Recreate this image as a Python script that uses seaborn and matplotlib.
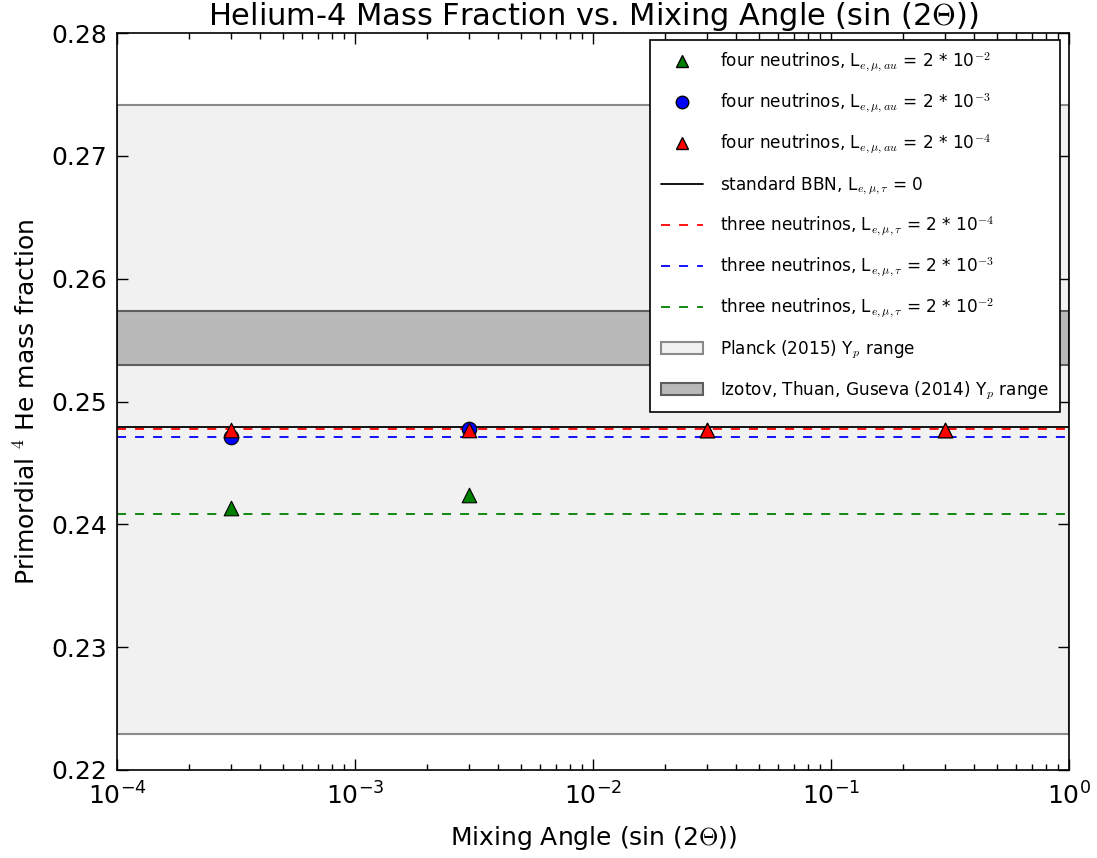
import numpy as np
import pandas as pd
import matplotlib
matplotlib.use("Agg")
import matplotlib.pyplot as plt
import seaborn as sns
from matplotlib.patches import Patch
from matplotlib.lines import Line2D

# Mixing angles (sin 2Theta) sampled by the four-neutrino runs
mixing_angle = [3e-4, 3e-3, 3e-2, 3e-1]

# Helium-4 mass fraction, four neutrinos, for three lepton asymmetries
yp_four_2e2 = [0.2413, 0.2424, 0.2477, 0.2477]
yp_four_2e3 = [0.2471, 0.2478, np.nan, np.nan]
yp_four_2e4 = [0.2477, 0.2477, 0.2477, 0.2477]

# Reference levels (no mixing)
yp_standard = 0.2479
yp_three_2e4 = 0.2478
yp_three_2e3 = 0.2471
yp_three_2e2 = 0.2408

# Observational ranges
planck_range = (0.2229, 0.2741)
izotov_range = (0.2530, 0.2574)

sns.set_style("ticks")
plt.rcParams.update({
    "font.family": ["DejaVu Sans"],
    "mathtext.fontset": "cm",
    "text.color": "black",
    "axes.labelcolor": "black",
    "xtick.color": "black",
    "ytick.color": "black",
    "xtick.direction": "in",
    "ytick.direction": "in",
    "xtick.top": True,
    "ytick.right": True,
    "xtick.major.size": 8,
    "xtick.minor.size": 4,
    "ytick.major.size": 8,
    "ytick.minor.size": 4,
    "axes.linewidth": 1.2,
    "axes.edgecolor": "black",
})

fig = plt.figure(figsize=(10.97, 8.58), dpi=100)
ax = fig.add_axes([0.1067, 0.1026, 0.8678, 0.8589])

# Observational bands
ax.axhspan(*planck_range, facecolor="#f1f1f1", edgecolor="#8a8a8a", linewidth=1.5, zorder=0)
ax.axhspan(*izotov_range, facecolor="#b9b9b9", edgecolor="#5e5e5e", linewidth=1.5, zorder=0.5)

# Horizontal reference lines
dash = (0, (5, 5))
ax.axhline(yp_standard, color="black", lw=1.3, zorder=2)
ax.axhline(yp_three_2e4, color="red", lw=1.3, ls=dash, zorder=2)
ax.axhline(yp_three_2e3, color="blue", lw=1.3, ls=dash, zorder=2)
ax.axhline(yp_three_2e2, color="green", lw=1.3, ls=dash, zorder=2)

four = pd.DataFrame({
    "x": mixing_angle * 3,
    "y": yp_four_2e2 + yp_four_2e3 + yp_four_2e4,
    "series": ["2e-2"] * 4 + ["2e-3"] * 4 + ["2e-4"] * 4,
}).dropna()
styles = {"2e-2": ("green", "^"), "2e-3": ("blue", "o"), "2e-4": ("red", "^")}
for key in ["2e-2", "2e-3", "2e-4"]:
    col, mk = styles[key]
    sns.scatterplot(data=four[four.series == key], x="x", y="y", color=col,
                    marker=mk, s=110, edgecolor="black", linewidth=0.8,
                    ax=ax, zorder=3, legend=False)

ax.set_xscale("log")
ax.set_xlim(1e-4, 1)
ax.set_ylim(0.22, 0.28)
ax.set_yticks([0.22, 0.23, 0.24, 0.25, 0.26, 0.27, 0.28])
ax.set_yticklabels(["0.22", "0.23", "0.24", "0.25", "0.26", "0.27", "0.28"])
ax.tick_params(axis="both", which="both", labelsize=18, width=1)
ax.tick_params(axis="y", which="major", pad=7)
ax.tick_params(axis="x", which="major", pad=9)

ax.set_xlabel(r"Mixing Angle (sin (2$\Theta$))", fontsize=18, labelpad=10)
ax.set_ylabel(r"Primordial $^4$ He mass fraction", fontsize=18, labelpad=8)
ax.set_title(r"Helium-4 Mass Fraction vs. Mixing Angle (sin (2$\Theta$))", fontsize=22, pad=4)

handles = [
    Line2D([], [], ls="none", marker="^", color="green", markeredgecolor="black", markersize=9),
    Line2D([], [], ls="none", marker="o", color="blue", markeredgecolor="black", markersize=9),
    Line2D([], [], ls="none", marker="^", color="red", markeredgecolor="black", markersize=9),
    Line2D([], [], color="black", lw=1.3),
    Line2D([], [], color="red", lw=1.3, ls=dash),
    Line2D([], [], color="blue", lw=1.3, ls=dash),
    Line2D([], [], color="green", lw=1.3, ls=dash),
    Patch(facecolor="#f1f1f1", edgecolor="#8a8a8a", linewidth=1.5),
    Patch(facecolor="#b9b9b9", edgecolor="#5e5e5e", linewidth=1.5),
]
labels = [
    r"four neutrinos, L$_{e,\mu,au}$ = 2 * 10$^{-2}$",
    r"four neutrinos, L$_{e,\mu,au}$ = 2 * 10$^{-3}$",
    r"four neutrinos, L$_{e,\mu,au}$ = 2 * 10$^{-4}$",
    r"standard BBN, L$_{e,\mu,\tau}$ = 0",
    r"three neutrinos, L$_{e,\mu,\tau}$ = 2 * 10$^{-4}$",
    r"three neutrinos, L$_{e,\mu,\tau}$ = 2 * 10$^{-3}$",
    r"three neutrinos, L$_{e,\mu,\tau}$ = 2 * 10$^{-2}$",
    r"Planck (2015) Y$_p$ range",
    r"Izotov, Thuan, Guseva (2014) Y$_p$ range",
]
leg = ax.legend(handles, labels, loc="upper right", bbox_to_anchor=(0.990, 0.991),
                fontsize=12.2, frameon=True, fancybox=False, framealpha=1,
                edgecolor="black", labelspacing=1.06, handlelength=2.5,
                handletextpad=1.0, borderpad=0.62, borderaxespad=0)
leg.get_frame().set_linewidth(1.2)

fig.savefig("out.png", dpi=100)
